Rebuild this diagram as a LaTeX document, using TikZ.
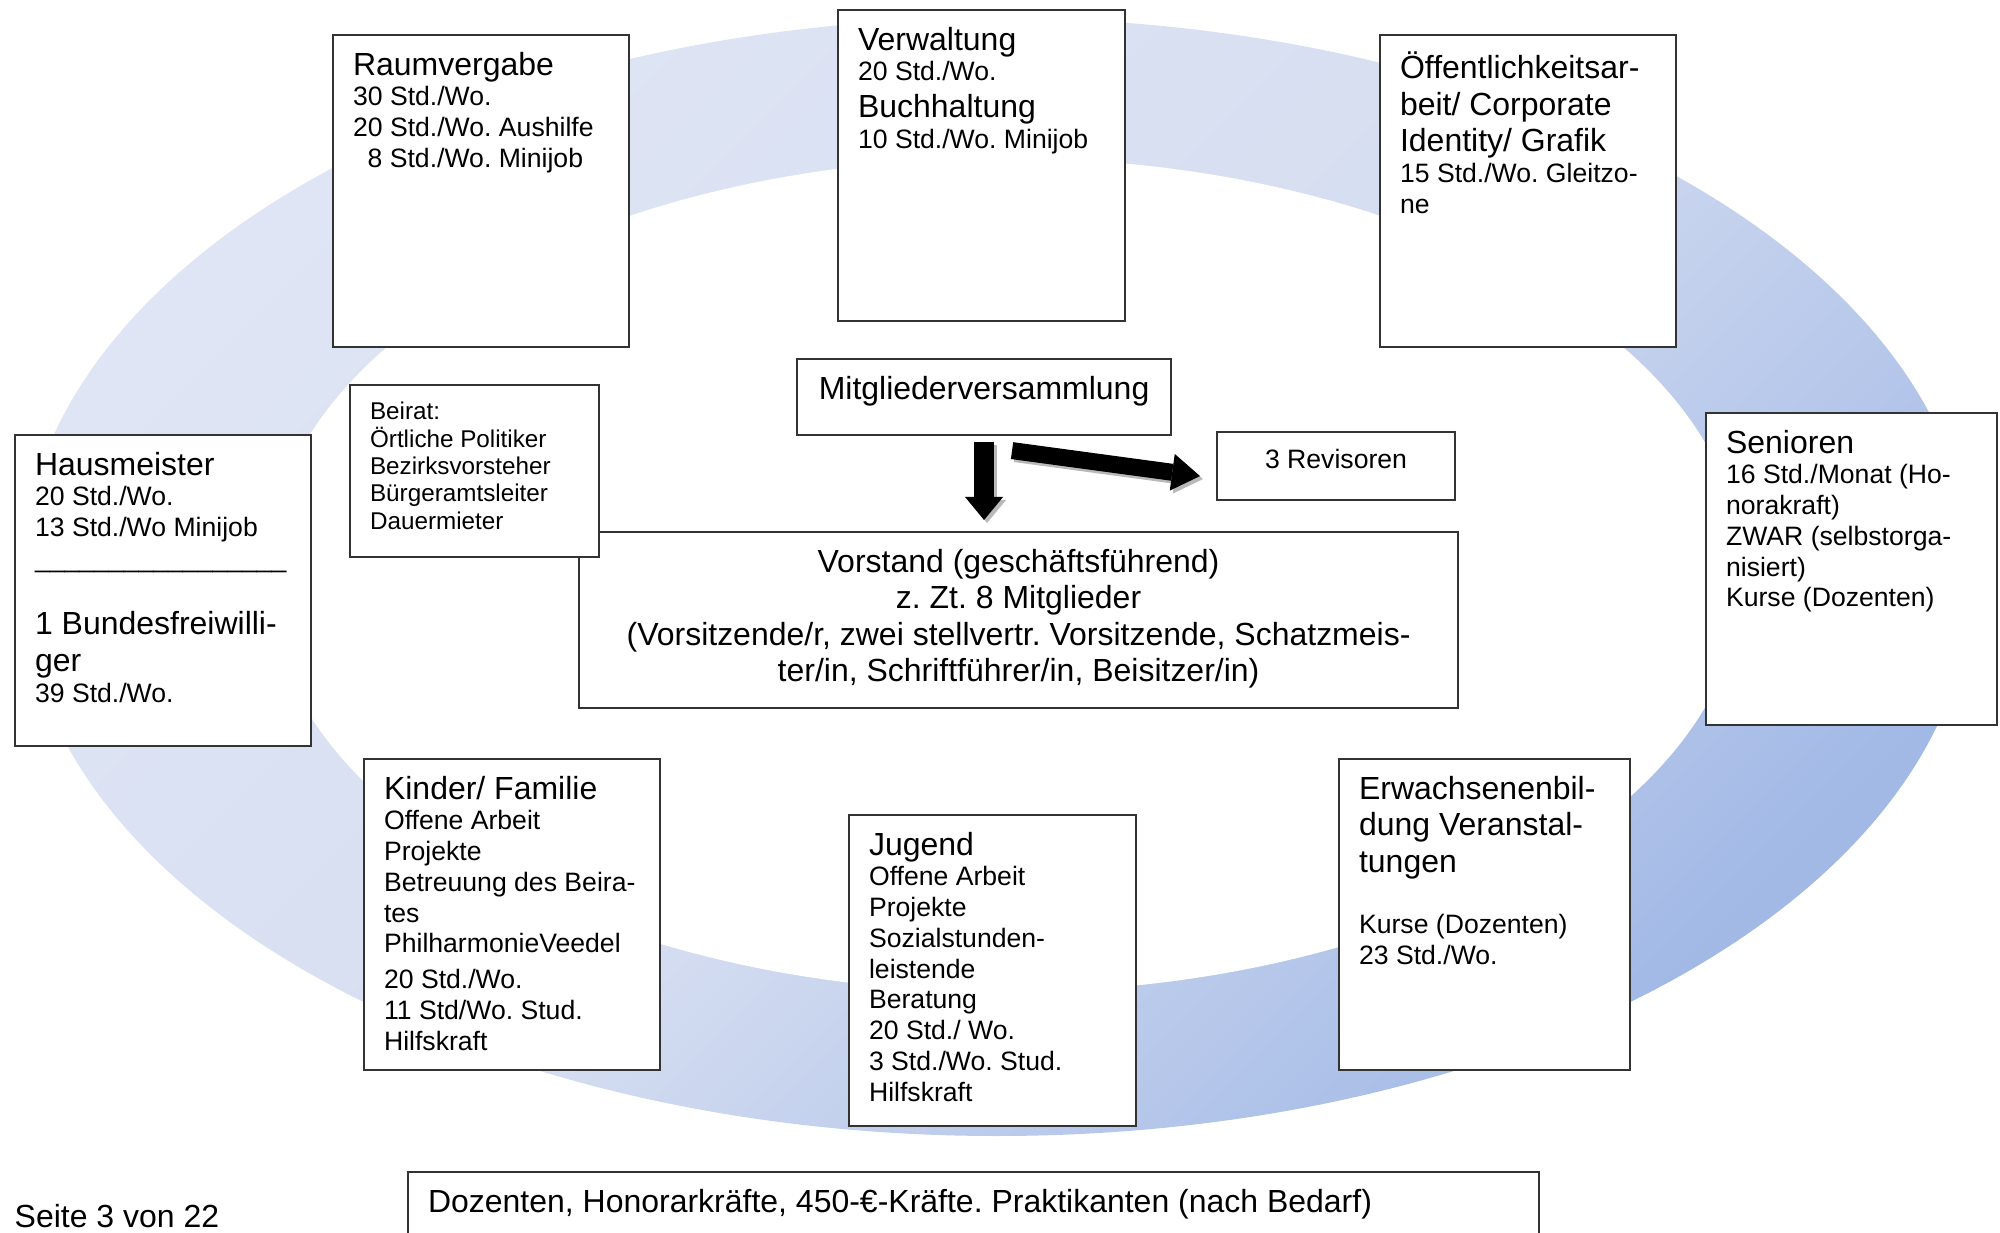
\documentclass[tikz,border=0pt]{standalone}
\usepackage{fontspec}
\setmainfont{Liberation Sans}
\usepackage{tikz}
\usetikzlibrary{arrows.meta, calc}
\definecolor{ringlight}{HTML}{DFE5F4}
\definecolor{ringmid}{HTML}{D6DEF1}
\definecolor{ringdark}{HTML}{A2B9E6}
\newcommand{\hdsize}{\fontsize{9.1pt}{10.4pt}\selectfont}
\newcommand{\bdsize}{\fontsize{7.57pt}{8.75pt}\selectfont}
\newcommand{\smsize}{\fontsize{6.9pt}{7.8pt}\selectfont}
\newcommand{\unittext}[3]{\parbox[t][\dimexpr#2-0.34cm\relax][t]{\dimexpr#1-0.4cm\relax}{\raggedright#3}}
\frenchspacing

\begin{document}
\begin{tikzpicture}[
		unit/.style={rectangle, draw=black!80, line width=0.6pt, fill=white, anchor=north west, inner xsep=0.2cm, inner ysep=0.17cm, font=\bdsize},
		bigarrow/.style={line width=0.2cm, -{Triangle[length=0.23cm, width=0.38cm, line width=0pt]}},
		slantarrow/.style={line width=0.17cm, -{Triangle[length=0.28cm, width=0.37cm, line width=0pt]}},
		shadowcopy/.style={draw=gray!55, transform canvas={xshift=0.03cm, yshift=-0.03cm}}
	]
	\useasboundingbox (0,0) rectangle (20,-12.33);
	\clip (0,0) rectangle (20,-12.33);
	
	% Ring
	\shade[top color=ringlight, bottom color=ringdark, middle color=ringmid, shading angle=45] (9.97,-5.77) ellipse (9.75 and 5.59);
	\fill[white] (10.05,-5.75) ellipse (7.38 and 4.17);
	
	% Upper row
	\node[unit] (raum) at (3.32,-0.34) {\unittext{2.96cm}{3.12cm}{{\hdsize Raumvergabe\par}30 Std./Wo.\\20 Std./Wo. Aushilfe\\\hspace*{0.55em}8 Std./Wo. Minijob}};
	\node[unit] (verw) at (8.37,-0.09) {\unittext{2.87cm}{3.11cm}{{\hdsize Verwaltung\par}20 Std./Wo.\par{\hdsize Buchhaltung\par}10 Std./Wo. Minijob}};
	\node[unit] (oeff) at (13.79,-0.34) {\unittext{2.96cm}{3.12cm}{{\hdsize Öffentlichkeitsar-\\beit/ Corporate\\Identity/ Grafik\par}15 Std./Wo. Gleitzo-\\ne}};
	
	% Centre
	\node[unit] (mv) at (7.96,-3.58) {\unittext{3.74cm}{0.76cm}{\centering\hdsize Mitgliederversammlung}};
	\node[unit] (rev) at (12.16,-4.31) {\unittext{2.38cm}{0.68cm}{\centering 3 Revisoren}};
	\node[unit] (vorstand) at (5.78,-5.31) {\unittext{8.79cm}{1.76cm}{\centering\hdsize Vorstand (geschäftsführend)\\z. Zt. 8 Mitglieder\\(Vorsitzende/r, zwei stellvertr. Vorsitzende, Schatzmeis-\\ter/in, Schriftführer/in, Beisitzer/in)}};
	\node[unit, font=\smsize] (beirat) at (3.49,-3.84) {\unittext{2.49cm}{1.72cm}{Beirat:\\Örtliche Politiker\\Bezirksvorsteher\\Bürgeramtsleiter\\Dauermieter}};
	
	% Sides
	\node[unit] (haus) at (0.14,-4.34) {\unittext{2.96cm}{3.11cm}{{\hdsize Hausmeister\par}20 Std./Wo.\\13 Std./Wo Minijob\\\_\_\_\_\_\_\_\_\_\_\_\_\_\_\_\_\_\par\vspace{\baselineskip}{\hdsize 1 Bundesfreiwilli-\\ger\par}39 Std./Wo.}};
	\node[unit] (senioren) at (17.05,-4.12) {\unittext{2.91cm}{3.12cm}{{\hdsize Senioren\par}16 Std./Monat (Ho-\\norakraft)\\ZWAR (selbstorga-\\nisiert)\\Kurse (Dozenten)}};
	
	% Lower row
	\node[unit] (kinder) at (3.63,-7.58) {\unittext{2.96cm}{3.11cm}{{\hdsize Kinder/ Familie\par}Offene Arbeit\\Projekte\\Betreuung des Beira-\\tes\\PhilharmonieVeedel\\[1.4pt]20 Std./Wo.\\11 Std/Wo. Stud.\\Hilfskraft}};
	\node[unit] (jugend) at (8.48,-8.14) {\unittext{2.87cm}{3.11cm}{{\hdsize Jugend\par}Offene Arbeit\\Projekte\\Sozialstunden-\\leistende\\Beratung\\20 Std./ Wo.\\3 Std./Wo. Stud.\\Hilfskraft}};
	\node[unit] (erw) at (13.38,-7.58) {\unittext{2.91cm}{3.11cm}{{\hdsize Erwachsenenbil-\\dung Veranstal-\\tungen\par}\vspace{\baselineskip}Kurse (Dozenten)\\23 Std./Wo.}};
	
	% Footer
	\node[unit, font=\hdsize] (extern) at (4.07,-11.71) {\unittext{11.31cm}{1.0cm}{Dozenten, Honorarkräfte, 450-€-Kräfte. Praktikanten (nach Bedarf)}};
	\node[font=\hdsize, anchor=base west, inner sep=0pt] (seite) at (0.14,-12.27) {Seite 3 von 22};
	
	% Block arrows
	\draw[bigarrow, shadowcopy, shorten <=0.06cm, shorten >=0.11cm] (mv.south) -- (mv.south |- vorstand.north);
	\draw[bigarrow, shorten <=0.06cm, shorten >=0.11cm] (mv.south) -- (mv.south |- vorstand.north);
	\draw[slantarrow, shadowcopy] ($(mv.south)+(0.28,-0.145)$) -- ($(rev.west)+(-0.16,-0.10)$);
	\draw[slantarrow] ($(mv.south)+(0.28,-0.145)$) -- ($(rev.west)+(-0.16,-0.10)$);
\end{tikzpicture}
\end{document}
